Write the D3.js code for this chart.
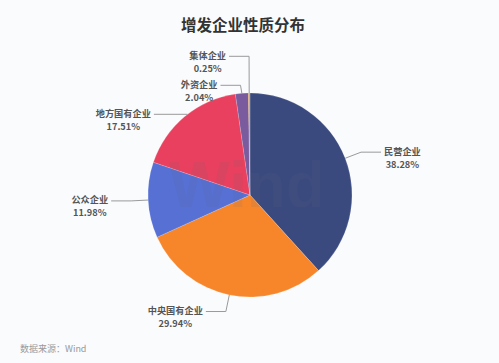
<!DOCTYPE html>
<meta charset="utf-8">
<head>
<title>增发企业性质分布</title>
<script src="https://cdn.jsdelivr.net/npm/d3@7"></script>
<style>
  body { margin: 0; background: #fafbfd; }
  svg { display: block; font-family: "Noto Sans CJK SC", "Noto Sans", sans-serif; }
</style>
</head>
<body>
<div id="chart"></div>
<script>
// data
var names = ["民营企业", "中央国有企业", "公众企业", "地方国有企业", "外资企业", "集体企业"];
var shares = [38.28, 29.94, 11.98, 17.51, 2.04, 0.25];
var colors = ["#3a4a7e", "#f7862b", "#5670d4", "#e8405e", "#7a5b9e", "#eaa23a"];

var width = 499, height = 363;
var cx = 250, cy = 195, r = 102;
var len1 = 17, len2 = 20, gap = 29;

var data = names.map(function (n, i) { return { name: n, value: shares[i], color: colors[i] }; });

var svg = d3.select("#chart").append("svg")
  .attr("width", width)
  .attr("height", height);

svg.append("rect").attr("width", width).attr("height", height).attr("fill", "#fafbfd");

svg.append("text")
  .attr("x", 243).attr("y", 30.5)
  .attr("text-anchor", "middle")
  .style("font-size", "15.5px").style("font-weight", "bold")
  .attr("fill", "#333")
  .text("增发企业性质分布");

var pie = d3.pie().sort(null).value(function (d) { return d.value; });
var arc = d3.arc().innerRadius(0).outerRadius(r);
var arcs = pie(data);

var g = svg.append("g").attr("transform", "translate(" + cx + "," + cy + ")");
g.selectAll("path")
  .data(arcs)
  .enter()
  .append("path")
  .attr("d", arc)
  .attr("fill", function (d) { return d.data.color; })
  .attr("stroke", "rgba(255,255,255,0.4)")
  .attr("stroke-width", 0.4);

// watermark
svg.append("text")
  .attr("x", 247).attr("y", 207)
  .attr("text-anchor", "middle")
  .style("font-family", "'Liberation Sans', Arial, sans-serif")
  .style("font-size", "64px").style("font-weight", "bold")
  .attr("fill", "rgba(100,100,125,0.11)")
  .text("Wind");

// label positions
var labels = arcs.map(function (a) {
  var mid = (a.startAngle + a.endAngle) / 2;
  var sx = Math.sin(mid), sy = -Math.cos(mid);
  var y0 = cy + (r + len1) * sy;
  return {
    a: a, side: sx >= 0 ? 1 : -1,
    ex: cx + r * sx, ey: cy + r * sy,
    bx: cx + (r + len1) * sx, y0: y0, y: y0
  };
});

// spread labels that collide, per side
[-1, 1].forEach(function (side) {
  var list = labels.filter(function (l) { return l.side === side; })
    .sort(function (a, b) { return a.y0 - b.y0; });
  var clusters = list.map(function (l) { return { items: [l] }; });
  function mean(c) { return d3.mean(c.items, function (l) { return l.y0; }); }
  var merged = true;
  while (merged) {
    merged = false;
    for (var i = 0; i < clusters.length - 1; i++) {
      var c1 = clusters[i], c2 = clusters[i + 1];
      var bottom1 = mean(c1) + (c1.items.length - 1) * gap / 2;
      var top2 = mean(c2) - (c2.items.length - 1) * gap / 2;
      if (top2 - bottom1 < gap) {
        c1.items = c1.items.concat(c2.items);
        clusters.splice(i + 1, 1);
        merged = true;
        break;
      }
    }
  }
  clusters.forEach(function (c) {
    var m = mean(c);
    c.items.forEach(function (l, k) { l.y = m + (k - (c.items.length - 1) / 2) * gap; });
  });
});

var line = d3.line();
labels.forEach(function (l) {
  var p3x = l.bx + l.side * len2;
  var pts;
  if (Math.abs(l.y - l.y0) > 3 && Math.abs(l.y - cy) < r - 5) {
    var px = cx + l.side * Math.sqrt(r * r - (l.y - cy) * (l.y - cy));
    pts = [[px, l.y], [p3x, l.y]];
  } else {
    pts = [[l.ex, l.ey], [l.bx, l.y], [p3x, l.y]];
  }
  svg.append("path")
    .attr("d", line(pts))
    .attr("fill", "none")
    .attr("stroke", "#9a9a9a")
    .attr("stroke-width", 1);

  var lg = svg.append("g");
  var t1 = lg.append("text")
    .attr("y", l.y + 2.5)
    .attr("text-anchor", "middle")
    .style("font-size", "9.2px").style("font-weight", "bold")
    .attr("fill", "#555")
    .text(l.a.data.name);
  var t2 = lg.append("text")
    .attr("y", l.y + 15.5)
    .attr("text-anchor", "middle")
    .style("font-size", "9.2px").style("font-weight", "bold")
    .attr("fill", "#555")
    .text(l.a.data.value.toFixed(2) + "%");
  var w = Math.max(t1.node().getComputedTextLength(), t2.node().getComputedTextLength());
  var x0 = p3x + l.side * 3;
  var mx = l.side > 0 ? x0 + w / 2 : x0 - w / 2;
  t1.attr("x", mx);
  t2.attr("x", mx);
});

svg.append("text")
  .attr("x", 20).attr("y", 352)
  .style("font-size", "9px")
  .attr("fill", "#999")
  .text("数据来源：Wind");
</script>
</body>
</html>
